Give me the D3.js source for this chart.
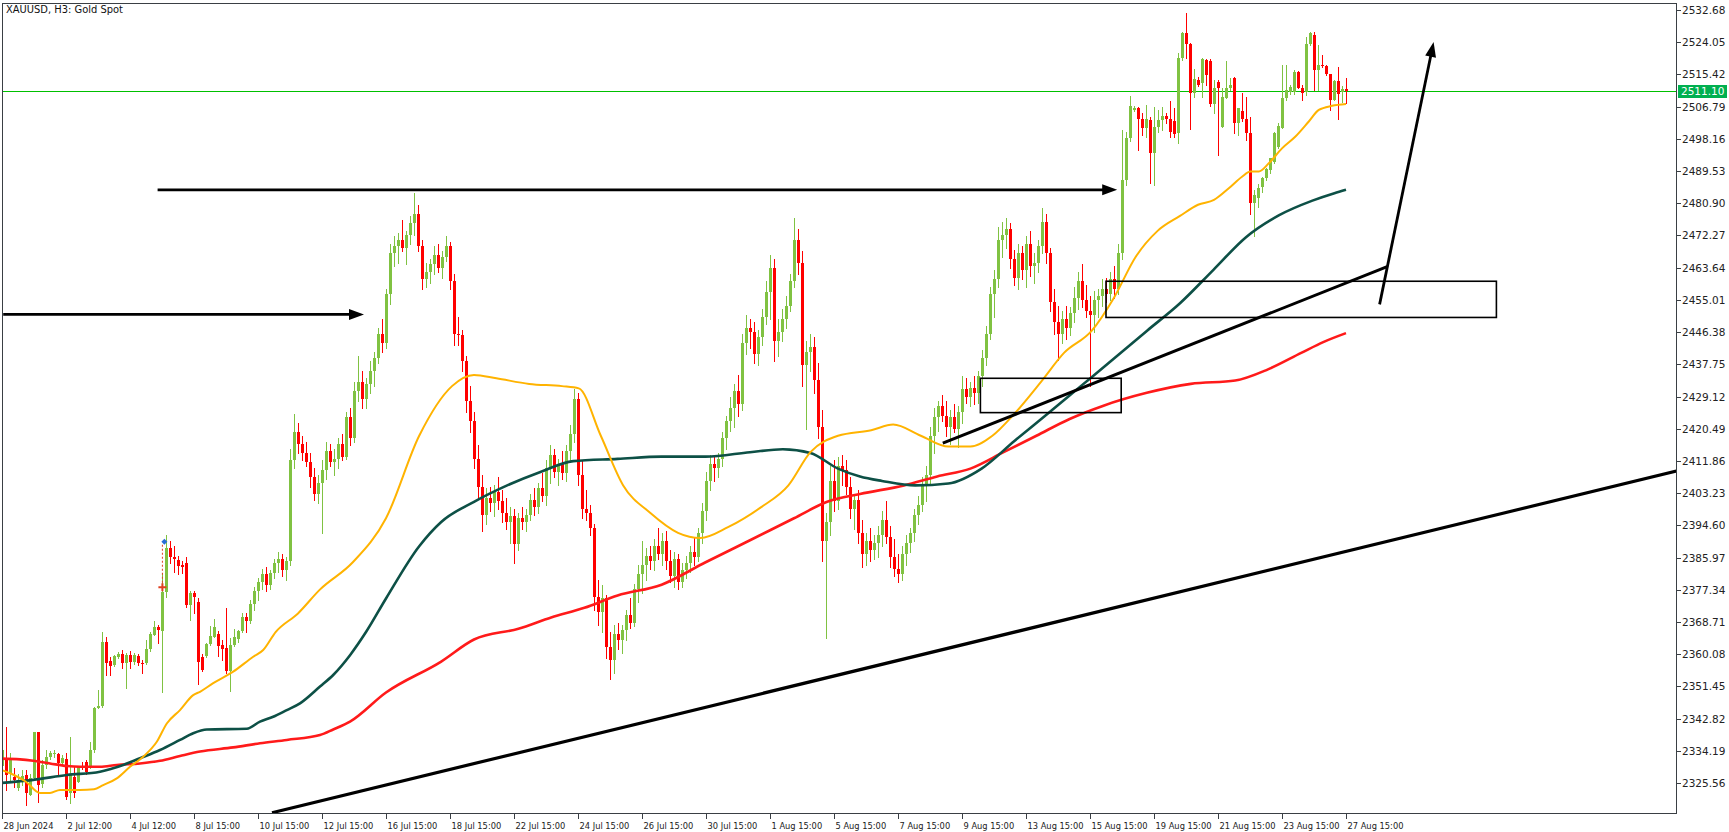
<!DOCTYPE html>
<html><head><meta charset="utf-8">
<script src="https://cdn.jsdelivr.net/npm/d3@7"></script>
<style>
html,body{margin:0;padding:0;background:#fff;}
svg{display:block;}
text{font-family:"DejaVu Sans",sans-serif;}
</style></head><body>
<svg id="chart" width="1729" height="832"></svg>
<script>
// ---- DATA (H3 bars, index 0 = 28 Jun 12:00, 4 px per bar) ----
const candles = [
[2330,2336,2328,2334.5],[2332,2340.6,2323.7,2327.7],[2328.1,2333.5,2326.3,2331.7],[2327.2,2329.5,2324.6,2326.4],
[2324.1,2328.1,2323.7,2326.4],[2326.4,2329,2325,2327.5],[2327.7,2329,2319.7,2322.8],[2322.3,2328.1,2322.3,2326.8],
[2326.8,2339.3,2326.4,2339.1],[2339.1,2339.3,2320.6,2325.0],[2325.4,2331.7,2324.6,2330.4],[2330.4,2334.4,2329.5,2332.6],
[2332.6,2334.2,2332,2333.5],[2333.2,2334.5,2332.5,2333.6],[2333.3,2333.7,2328.1,2330.8],[2330.8,2333,2330.3,2332.2],
[2332.0,2333.5,2321.4,2321.7],[2322.8,2338.0,2320.1,2328.1],[2327.2,2329.9,2321.9,2322.8],[2325.9,2330.1,2325.9,2329.9],
[2330.2,2331.2,2329.3,2329.8],[2331.3,2331.8,2328.0,2328.6],[2329.9,2336.6,2329.5,2334.4],[2334.4,2346.0,2334.0,2345.6],
[2345.7,2350.5,2345.6,2346.2],[2346.3,2366.1,2346.0,2363.4],[2363.4,2364.8,2354.5,2357.6],[2358.2,2359.4,2354.5,2356.9],
[2357.2,2359.9,2356.9,2359.6],[2359.4,2360.6,2359.0,2360.0],[2360.0,2361.2,2356.3,2357.6],[2357.6,2360.3,2351.1,2359.8],
[2359.8,2361.0,2356.3,2358.1],[2358.1,2360.3,2357.5,2359.8],[2359.7,2360.2,2357.2,2357.6],
[2357.8,2358.5,2354.9,2357.4],[2357.6,2364.0,2357.4,2361.4],[2361.4,2366.0,2361.0,2365.5],[2365.3,2369.0,2365.2,2367.4],
[2367.4,2367.9,2363.0,2366.5],[2366.4,2381.7,2350.0,2376.8],[2376.8,2392.0,2375.5,2388.5],[2388.5,2390.5,2384.5,2386.0],
[2386.0,2389.0,2382.0,2385.5],[2385.3,2386.5,2381.6,2383.7],[2383.9,2385.0,2381.7,2383.5],[2384.5,2386.0,2372.6,2373.3],
[2373.3,2377.0,2369.2,2376.4],[2376.4,2377.0,2371.0,2375.5],[2374.1,2375.0,2352.1,2358.1],[2359.4,2360.0,2355.5,2355.8],
[2359.6,2363.0,2359.4,2362.7],[2362.7,2367.6,2362.5,2364.9],[2364.8,2369.4,2364.6,2367.4],[2365.5,2366.4,2359.5,2362.3],
[2362.5,2363.9,2358.5,2361.4],[2361.6,2372.4,2354.9,2355.6],[2355.6,2364.4,2350.3,2362.5],[2362.5,2366.7,2362.3,2364.6],
[2364.2,2366.6,2363.4,2366.4],[2366.4,2371.2,2366.1,2370.1],[2370.1,2371.2,2366.1,2369.1],[2369.1,2374.5,2368.5,2373.5],
[2373.5,2378.0,2372.0,2377.0],[2377.0,2380.5,2374.5,2379.5],[2379.5,2383.0,2377.5,2381.5],[2381.5,2383.5,2377.0,2378.5],
[2378.5,2382.5,2377.5,2381.8],[2381.8,2385.5,2380.5,2384.5],[2384.5,2387.5,2382.0,2385.5],[2385.5,2387.0,2381.0,2382.5],
[2382.5,2386.0,2380.0,2385.0],[2385.0,2415.0,2384.0,2412.0],[2412.0,2424.5,2410.0,2419.5],[2419.5,2422.0,2414.0,2416.5],
[2416.5,2418.5,2412.0,2414.0],[2414.0,2417.0,2410.5,2411.5],[2411.5,2414.0,2405.0,2407.5],[2407.5,2410.0,2401.5,2403.0],
[2403.0,2408.0,2400.5,2406.0],[2406.0,2412.0,2392.5,2409.5],[2409.5,2417.0,2407.0,2414.5],[2414.5,2416.5,2410.5,2411.5],
[2411.5,2415.0,2408.0,2412.5],[2412.5,2418.0,2410.0,2416.5],[2416.5,2419.0,2412.0,2413.0],[2413.0,2425.0,2412.5,2423.5],
[2423.5,2426.0,2416.0,2418.0],[2418.0,2433.0,2417.0,2430.5],[2430.5,2440.0,2428.0,2433.0],[2433.0,2436.0,2426.0,2428.5],
[2428.5,2434.0,2426.0,2432.5],[2432.5,2438.5,2430.0,2436.0],[2436.0,2441.0,2432.0,2439.5],[2439.5,2447.5,2438.0,2446.0],
[2446.0,2450.0,2441.0,2443.5],[2443.5,2458.0,2442.0,2456.5],[2456.5,2470.0,2454.0,2467.5],[2467.5,2472.0,2464.0,2469.5],
[2469.5,2473.0,2465.0,2471.0],[2471.0,2476.5,2468.0,2469.0],[2469.0,2473.5,2464.5,2472.5],[2472.5,2477.5,2470.0,2475.5],
[2475.5,2483.7,2472.5,2478.0],[2478.0,2480.5,2468.0,2469.5],[2469.5,2471.0,2458.0,2460.5],[2460.5,2465.0,2458.5,2462.5],
[2462.5,2466.0,2459.5,2464.5],[2464.5,2469.5,2462.0,2467.0],[2467.0,2470.0,2462.5,2463.5],[2463.5,2468.0,2461.0,2466.5],
[2466.5,2472.0,2465.5,2469.5],[2469.5,2470.5,2458.0,2460.0],[2460.0,2462.0,2443.0,2446.0],[2446.0,2450.5,2443.0,2445.5],
[2445.5,2447.0,2436.0,2438.5],[2438.5,2440.0,2425.0,2428.0],[2428.0,2432.0,2419.5,2422.5],[2422.5,2425.0,2410.0,2412.5],
[2412.5,2416.0,2402.0,2405.0],[2405.0,2408.0,2393.0,2397.5],[2397.5,2404.5,2395.0,2402.0],[2402.0,2405.0,2398.5,2400.5],
[2400.5,2405.5,2397.0,2403.5],[2403.5,2407.5,2399.0,2401.0],[2401.0,2404.0,2395.5,2398.0],[2398.0,2402.0,2393.5,2395.5],
[2395.5,2399.5,2390.0,2397.0],[2397.0,2399.0,2384.5,2389.5],[2389.5,2398.0,2388.0,2396.5],[2396.5,2399.5,2393.5,2395.5],
[2395.5,2399.0,2393.0,2397.5],[2397.5,2403.0,2396.0,2401.5],[2401.5,2404.5,2397.5,2399.5],[2399.5,2406.0,2398.0,2404.5],
[2404.5,2408.5,2401.0,2402.5],[2402.5,2412.0,2400.0,2410.0],[2410.0,2416.0,2406.0,2413.5],[2413.5,2415.0,2407.5,2409.0],
[2409.0,2412.5,2405.5,2411.0],[2411.0,2414.5,2407.0,2408.5],[2408.5,2416.0,2406.5,2414.5],[2414.5,2421.5,2412.0,2419.0],
[2419.0,2431.0,2417.0,2428.5],[2428.5,2430.0,2405.5,2408.0],[2408.0,2412.0,2396.5,2399.0],[2399.0,2404.0,2396.0,2398.0],
[2398.0,2400.0,2392.0,2394.0],[2394.0,2395.0,2372.0,2375.5],[2375.5,2380.0,2368.0,2371.5],[2371.5,2378.5,2366.0,2375.0],
[2375.0,2376.0,2359.0,2362.0],[2362.0,2366.0,2353.5,2358.5],[2358.5,2368.0,2355.0,2365.5],[2365.5,2368.5,2361.5,2364.0],
[2364.0,2368.0,2360.5,2366.5],[2366.5,2372.0,2364.0,2370.5],[2370.5,2375.0,2367.0,2368.5],[2368.5,2379.0,2367.5,2377.5],
[2377.5,2384.0,2374.0,2381.5],[2381.5,2390.5,2376.5,2384.0],[2384.0,2388.5,2380.0,2386.5],[2386.5,2389.0,2383.0,2385.0],
[2385.0,2391.0,2382.5,2389.0],[2389.0,2394.0,2385.5,2387.0],[2387.0,2392.5,2384.0,2390.5],[2390.5,2393.0,2383.0,2385.0],
[2385.0,2388.0,2379.5,2381.0],[2381.0,2387.5,2378.0,2385.5],[2385.5,2387.0,2377.5,2379.5],[2379.5,2384.5,2378.0,2382.5],
[2382.5,2386.5,2380.5,2384.5],[2384.5,2389.0,2382.0,2387.5],[2387.5,2391.5,2384.0,2386.0],[2386.0,2394.0,2385.0,2392.5],
[2392.5,2400.5,2390.0,2398.5],[2398.5,2409.0,2396.0,2406.5],[2406.5,2413.5,2404.0,2411.0],[2411.0,2413.0,2406.5,2410.0],
[2410.0,2414.0,2407.5,2412.5],[2412.5,2419.5,2410.5,2418.0],[2418.0,2424.0,2415.0,2422.5],[2422.5,2429.0,2420.0,2426.0],
[2426.0,2432.5,2421.0,2430.5],[2430.5,2435.0,2424.0,2427.0],[2427.0,2446.0,2425.5,2443.5],[2443.5,2451.0,2440.5,2447.5],
[2447.5,2450.0,2442.0,2446.5],[2446.5,2449.0,2438.0,2440.5],[2440.5,2447.0,2437.5,2445.0],[2445.0,2452.5,2443.0,2450.5],
[2450.5,2460.0,2448.5,2457.0],[2457.0,2467.0,2450.0,2463.5],[2463.5,2466.0,2438.5,2444.0],[2444.0,2450.0,2440.0,2446.5],
[2446.5,2452.5,2444.0,2450.0],[2450.0,2456.0,2447.5,2453.5],[2453.5,2462.0,2452.0,2460.0],[2460.0,2477.0,2458.5,2471.0],
[2471.0,2474.0,2462.0,2465.0],[2465.0,2468.0,2432.0,2437.5],[2437.5,2444.0,2420.5,2441.0],[2441.0,2446.0,2436.0,2442.5],
[2442.5,2445.0,2430.0,2433.5],[2433.5,2438.0,2418.0,2421.0],[2421.0,2425.5,2385.0,2390.5],[2390.5,2398.0,2364.5,2395.5],
[2395.5,2410.5,2392.0,2406.5],[2406.5,2412.0,2398.5,2401.0],[2401.0,2413.0,2399.0,2410.5],[2410.5,2413.5,2405.5,2409.5],
[2409.5,2412.0,2403.0,2405.0],[2405.0,2407.5,2396.5,2399.0],[2399.0,2403.0,2393.5,2401.5],[2401.5,2404.0,2390.0,2392.5],
[2392.5,2396.0,2383.5,2387.0],[2387.0,2392.5,2384.0,2390.5],[2390.5,2394.0,2385.0,2388.0],[2388.0,2392.0,2385.5,2390.0],
[2390.0,2394.5,2386.0,2392.0],[2392.0,2398.5,2389.0,2396.0],[2396.0,2401.0,2390.0,2391.5],[2391.5,2394.5,2383.5,2386.0],
[2386.0,2391.0,2381.0,2383.0],[2383.0,2387.0,2379.5,2381.5],[2381.5,2389.0,2380.0,2387.0],[2387.0,2392.0,2384.0,2390.0],
[2390.0,2394.0,2387.5,2392.5],[2392.5,2399.0,2390.5,2397.5],[2397.5,2402.5,2395.0,2400.0],[2400.0,2407.5,2398.5,2405.5],
[2405.5,2410.5,2401.0,2408.0],[2408.0,2421.0,2406.0,2418.5],[2418.5,2426.0,2414.0,2423.5],[2423.5,2428.0,2420.0,2426.5],
[2426.5,2429.5,2422.5,2424.0],[2424.0,2428.0,2418.5,2421.0],[2421.0,2425.5,2416.5,2423.5],[2423.5,2427.0,2419.5,2420.5],
[2420.5,2426.5,2415.5,2425.0],[2425.0,2434.5,2422.0,2431.0],[2431.0,2434.0,2427.5,2429.0],[2429.0,2433.0,2426.5,2431.5],
[2431.5,2434.5,2427.0,2430.0],[2430.0,2436.0,2427.5,2434.5],[2434.5,2441.5,2432.0,2439.5],[2439.5,2448.0,2437.5,2446.0],
[2446.0,2458.5,2444.5,2456.5],[2456.5,2463.0,2450.5,2460.5],[2460.5,2474.5,2458.5,2471.0],[2471.0,2476.0,2466.5,2472.5],
[2472.5,2477.0,2469.0,2474.0],[2474.0,2475.5,2463.5,2466.0],[2466.0,2468.5,2459.0,2461.0],[2461.0,2470.0,2458.0,2467.5],
[2467.5,2469.5,2460.5,2463.0],[2463.0,2472.0,2458.5,2470.0],[2470.0,2473.5,2461.5,2464.0],[2464.0,2467.5,2459.5,2465.0],
[2465.0,2471.0,2462.5,2469.5],[2469.5,2479.5,2467.5,2476.0],[2476.0,2478.0,2465.0,2467.5],[2467.5,2469.0,2452.0,2454.5],
[2454.5,2458.0,2446.0,2449.0],[2449.0,2453.5,2439.0,2446.0],[2446.0,2452.0,2443.5,2450.0],[2450.0,2453.5,2444.5,2447.5],
[2447.5,2453.0,2445.5,2451.5],[2451.5,2458.5,2449.0,2455.5],[2455.5,2462.5,2452.5,2460.0],[2460.0,2464.5,2453.0,2455.0],
[2455.0,2459.0,2450.5,2452.0],[2452.0,2456.0,2432.0,2451.0],[2451.0,2457.5,2446.5,2455.0],[2455.0,2458.0,2450.5,2456.0],
[2456.0,2460.5,2453.5,2458.0],[2458.0,2461.0,2454.5,2456.5],[2456.5,2462.5,2455.0,2460.5],[2460.5,2464.0,2455.5,2458.0],
[2458.0,2470.0,2456.5,2467.5],[2467.5,2500.5,2466.0,2487.1],[2487.1,2500.1,2485.8,2498.3],[2498.3,2509.6,2497.5,2507.0],
[2506.0,2507.0,2505.5,2506.4],[2506.5,2506.8,2495.2,2503.4],[2503.5,2505.0,2499.2,2501.0],[2501.0,2507.2,2498.7,2503.4],
[2503.2,2504.1,2486.4,2494.4],[2494.4,2506.8,2485.8,2501.4],[2501.4,2505.9,2500.1,2503.2],[2503.2,2506.8,2500.5,2504.3],
[2504.3,2505.0,2502.5,2503.6],[2503.6,2508.4,2498.7,2500.0],[2503.0,2506.3,2498.7,2499.4],[2499.6,2521.1,2497.1,2519.7],
[2519.7,2526.9,2519.3,2526.4],[2526.4,2531.8,2519.7,2523.7],[2523.7,2523.9,2500.7,2510.5],[2510.5,2516.8,2509.5,2514.1],
[2513.9,2514.8,2512.3,2512.6],[2513.0,2519.7,2509.4,2519.5],[2519.3,2519.6,2512.6,2515.3],[2519.0,2519.6,2507.0,2507.4],
[2507.4,2513.9,2505.0,2511.7],[2513.5,2513.9,2493.8,2511.7],[2501.4,2511.7,2501.4,2509.4],[2509.2,2519.0,2509.0,2511.7],
[2511.7,2514.4,2511.2,2512.6],[2514.4,2514.6,2499.6,2502.3],[2502.3,2506.3,2499.2,2506.3],[2505.6,2510.5,2503.0,2503.6],
[2503.6,2509.4,2497.8,2499.6],[2499.8,2504.1,2478.0,2481.0],[2481.0,2484.5,2472.0,2483.0],[2482.2,2486.0,2480.0,2484.9],
[2485.3,2488.0,2484.0,2487.6],[2487.6,2490.3,2487.1,2490.0],[2489.8,2493.0,2489.0,2492.9],[2492.0,2500.1,2491.6,2499.6],
[2496.1,2502.5,2495.6,2501.6],[2501.0,2517.9,2501.0,2509.0],[2509.0,2517.9,2508.6,2511.2],[2510.8,2512.6,2510.2,2512.0],
[2510.8,2516.6,2510.2,2516.2],[2516.2,2516.4,2511.7,2511.7],[2511.7,2512.6,2508.6,2510.4],[2510.8,2525.5,2509.9,2523.7],
[2523.7,2526.9,2523.3,2526.4],[2526.0,2526.9,2511.2,2516.6],[2516.6,2523.3,2511.2,2517.9],[2518.0,2520.6,2517.5,2517.7],
[2517.7,2517.9,2515.3,2515.5],[2515.5,2515.5,2505.9,2508.6],[2508.6,2513.9,2508.6,2513.7],[2513.7,2517.5,2503.4,2510.1],
[2510.8,2512.3,2508.1,2511.4],[2511.4,2514.4,2507.7,2511.1]
];

const timeTickBars = [0,16,32,48,64,80,96,112,128,144,160,176,192,208,224,240,256,272,288,304,320,336];
const timeTickLabels = ["28 Jun 2024","2 Jul 12:00","4 Jul 12:00","8 Jul 15:00","10 Jul 15:00","12 Jul 15:00",
 "16 Jul 15:00","18 Jul 15:00","22 Jul 15:00","24 Jul 15:00","26 Jul 15:00","30 Jul 15:00","1 Aug 15:00",
 "5 Aug 15:00","7 Aug 15:00","9 Aug 15:00","13 Aug 15:00","15 Aug 15:00","19 Aug 15:00","21 Aug 15:00",
 "23 Aug 15:00","27 Aug 15:00"];
const priceTicks = [2532.68,2524.05,2515.42,2506.79,2498.16,2489.53,2480.90,2472.27,2463.64,2455.01,2446.38,
 2437.75,2429.12,2420.49,2411.86,2403.23,2394.60,2385.97,2377.34,2368.71,2360.08,2351.45,2342.82,2334.19,2325.56];
const lastPrice = 2511.10;

// moving averages: [bar index, price]
const maFast = [[0,2329.0],[3,2327.7],[6,2325.9],[9.5,2322.9],[12,2322.9],[14.5,2323.7],[19.5,2323.7],[23,2323.9],
 [25.3,2325.0],[28.7,2326.8],[32,2329.9],[35.3,2332.6],[38.7,2336.6],[41.2,2341.5],[44.5,2345.1],[47.8,2349.1],
 [49.5,2350.0],[52.8,2352.3],[57.8,2355.4],[62.8,2359.4],[65.3,2361.2],[68.4,2366.0],[74,2371],[79.4,2377.3],
 [87.7,2384.7],[96,2396.5],[104.3,2418.6],[112.5,2431.9],[118,2434.9],[123.6,2434.0],[131.8,2432.5],[140,2431.9],
 [144.2,2431.3],[149.7,2418.6],[155.3,2405.3],[162.1,2397.9],[169,2392.6],[174.6,2391.2],[181.5,2394.1],
 [189.7,2399.4],[196.6,2405.3],[202.1,2414.2],[209,2418.6],[217.3,2420.1],[222.8,2421.6],[229.7,2418.6],
 [236.6,2415.7],[242.1,2415.7],[247.6,2418.6],[253.1,2424.5],[260,2433.4],[265.5,2440.8],[272.4,2446.7],
 [278,2455.6],[283.4,2466.5],[288.9,2473.5],[294.5,2477.5],[299,2480.5],[303,2481.8],[306.7,2484.9],[310,2488.0],
 [312.1,2489.4],[314.2,2489.4],[316.7,2491.6],[320,2495.6],[323.3,2498.7],[326.7,2502.8],[329.2,2505.9],
 [332.5,2507.0],[336,2507.5]];
const maMid = [[0,2325.6],[7.8,2326.4],[16.2,2327.7],[24.5,2328.6],[30.3,2330.4],[34.5,2332.2],[39.5,2334.4],
 [44.5,2337.1],[47.8,2338.9],[51.2,2339.9],[61.2,2340.1],[64.5,2342.0],[67.8,2343.3],[71.2,2345.1],[74.5,2346.9],
 [79.5,2351.4],[82.8,2354.5],[87,2359.8],[91,2366],[96,2375],[104.3,2389],[109.8,2395.5],[118,2400.9],
 [126.3,2405.3],[134.6,2408.9],[142.8,2411.8],[153.9,2412.4],[164.9,2413.0],[175.9,2413.0],[187,2414.2],
 [195.2,2415.0],[202.1,2414.0],[209,2409.8],[214.5,2407.7],[220,2406.5],[228.3,2405.3],[236.6,2405.8],
 [244.9,2409.8],[253.1,2417.2],[261.4,2424.5],[269.7,2431.9],[278,2439.3],[286.2,2446.7],[294.5,2454.1],
 [302.8,2463.0],[311,2471.8],[319.3,2477.7],[327.6,2481.6],[333.1,2483.6],[336,2484.5]];
const maSlow = [[0,2332.1],[4.5,2331.9],[7.8,2331.5],[12,2330.8],[16.2,2330.1],[19.5,2329.9],[24.5,2329.9],
 [28.7,2330.4],[34.5,2330.8],[39.5,2331.5],[44.5,2332.8],[49.5,2334.0],[57.8,2335.1],[64.5,2336.2],[71.2,2337.1],
 [79.5,2338.4],[82.8,2339.9],[87,2342.0],[96,2349.8],[109.8,2358.1],[118,2364.0],[129.1,2366.9],[137.3,2369.9],
 [145.6,2372.5],[153.9,2375.8],[164.9,2378.7],[175.9,2384.7],[187,2390.6],[198,2396.5],[206.3,2400.9],
 [214.5,2403.0],[225.5,2405.3],[233.8,2407.7],[242.1,2409.8],[250.4,2414.2],[258.6,2418.6],[266.9,2423.1],
 [275.2,2426.6],[286.2,2430.1],[297.2,2432.5],[308.3,2433.4],[316.5,2436.4],[324.8,2440.8],[330.3,2443.7],
 [336,2446.1]];

// trade markers on the 5 Jul bar: [bar index, price]
const tradeBuy = [40.6, 2390.2];
const tradeClose = [40.1, 2378.0];

// hand-drawn annotations: [bar index, price]
const trendMain = [[67.5,2317.6],[420,2409.5]];
const trendShort = [[235.2,2416.6],[346.3,2463.9]];
const arrowTop = [[38.9,2484.5],[278.8,2484.5]];
const arrowLeft = [[0.3,2451.1],[90.5,2451.1]];
const arrowUp = [[344.4,2453.8],[357.9,2524.1]];
const zoneLow = [[244.6,2434.0],[279.8,2424.8]];
const zoneHigh = [[276,2460.0],[373.6,2450.3]];

// ---- LAYOUT ----
const W = 1729, H = 832;
const plotL = 2, plotR = 1676, plotT = 3, plotB = 813;
const x = d3.scaleLinear().domain([0, 1]).range([2, 6]);
const y = d3.scaleLinear().domain([2325.56, 2532.68]).range([783, 10]);

const svg = d3.select("#chart");
svg.append("rect").attr("width", W).attr("height", H).attr("fill", "#fff");
svg.append("defs").append("clipPath").attr("id", "plotclip")
  .append("rect").attr("x", plotL).attr("y", plotT).attr("width", plotR - plotL).attr("height", plotB - plotT);

const plot = svg.append("g").attr("clip-path", "url(#plotclip)");

// current price line
plot.append("line").attr("x1", plotL).attr("x2", plotR)
  .attr("y1", Math.round(y(lastPrice)) + 0.5).attr("y2", Math.round(y(lastPrice)) + 0.5)
  .attr("stroke", "#00c000").attr("stroke-width", 1);

// candles
const UP = "#80c242", DN = "#ff0000";
const cg = plot.append("g");
candles.forEach((d, i) => {
  const [o, h, l, c] = d;
  const cx = Math.round(x(i));
  const col = c >= o ? UP : DN;
  const hi = Math.max(h, o, c), lo = Math.min(l, o, c);
  cg.append("line").attr("x1", cx + 0.5).attr("x2", cx + 0.5)
    .attr("y1", Math.round(y(hi))).attr("y2", Math.round(y(lo)) + 1)
    .attr("stroke", col).attr("stroke-width", 1);
  const yt = Math.round(y(Math.max(o, c))), yb = Math.round(y(Math.min(o, c)));
  cg.append("rect").attr("x", cx - 1).attr("y", yt).attr("width", 3)
    .attr("height", Math.max(1, yb - yt)).attr("fill", col);
});

// moving averages
const line = d3.line().x(d => x(d[0])).y(d => y(d[1])).curve(d3.curveMonotoneX);
plot.append("path").datum(maSlow).attr("d", line).attr("fill", "none").attr("stroke", "#ff1a1a").attr("stroke-width", 2.6);
plot.append("path").datum(maMid).attr("d", line).attr("fill", "none").attr("stroke", "#0d5046").attr("stroke-width", 2.6);
plot.append("path").datum(maFast).attr("d", line).attr("fill", "none").attr("stroke", "#ffb300").attr("stroke-width", 2);

// trade markers
{
  const bx = x(tradeBuy[0]), by = y(tradeBuy[1]);
  plot.append("path").attr("d", `M${bx},${by - 3}L${bx + 3},${by}L${bx},${by + 3}L${bx - 3},${by}Z`).attr("fill", "#2a6fd6");
  const rx = x(tradeClose[0]), ry = y(tradeClose[1]);
  plot.append("line").attr("x1", rx).attr("x2", rx).attr("y1", by + 3).attr("y2", ry - 3)
    .attr("stroke", "#e04020").attr("stroke-width", 1).attr("stroke-dasharray", "2,2");
  plot.append("path").attr("d", `M${rx - 4},${ry}L${rx + 4},${ry}M${rx},${ry - 4}L${rx},${ry + 4}`)
    .attr("stroke", "#e04020").attr("stroke-width", 2);
}

// annotations
const ag = plot.append("g");
function seg(pts, w) {
  ag.append("line").attr("x1", x(pts[0][0])).attr("y1", y(pts[0][1]))
    .attr("x2", x(pts[1][0])).attr("y2", y(pts[1][1]))
    .attr("stroke", "#000").attr("stroke-width", w).attr("stroke-linecap", "butt");
}
function arrow(pts, w) {
  const x1 = x(pts[0][0]), y1 = y(pts[0][1]), x2 = x(pts[1][0]), y2 = y(pts[1][1]);
  const dx = x2 - x1, dy = y2 - y1, len = Math.hypot(dx, dy);
  const ux = dx / len, uy = dy / len, nx = -uy, ny = ux;
  const hl = 15, hw = 5.5;
  ag.append("line").attr("x1", x1).attr("y1", y1).attr("x2", x2 - ux * (hl - 2)).attr("y2", y2 - uy * (hl - 2))
    .attr("stroke", "#000").attr("stroke-width", w);
  const bx = x2 - ux * hl, by = y2 - uy * hl;
  ag.append("path").attr("d", `M${x2},${y2}L${bx + nx * hw},${by + ny * hw}L${bx - nx * hw},${by - ny * hw}Z`)
    .attr("fill", "#000");
}
function box(pts) {
  const xa = x(pts[0][0]), xb = x(pts[1][0]), ya = y(pts[0][1]), yb = y(pts[1][1]);
  ag.append("rect").attr("x", Math.min(xa, xb)).attr("y", Math.min(ya, yb))
    .attr("width", Math.abs(xb - xa)).attr("height", Math.abs(yb - ya))
    .attr("fill", "none").attr("stroke", "#000").attr("stroke-width", 1.6);
}
seg(trendMain, 3.2);
seg(trendShort, 3);
box(zoneLow);
box(zoneHigh);
arrow(arrowTop, 2.8);
arrow(arrowLeft, 2.8);
arrow(arrowUp, 2.8);

// frame
const axisCol = "#3a3f44";
svg.append("line").attr("x1", plotL + 0.5).attr("x2", plotL + 0.5).attr("y1", plotT).attr("y2", plotB).attr("stroke", axisCol);
svg.append("line").attr("x1", plotL).attr("x2", plotR).attr("y1", plotT + 0.5).attr("y2", plotT + 0.5).attr("stroke", axisCol);
svg.append("line").attr("x1", plotR + 0.5).attr("x2", plotR + 0.5).attr("y1", plotT).attr("y2", plotB + 1).attr("stroke", axisCol);
svg.append("line").attr("x1", plotL).attr("x2", plotR + 1).attr("y1", plotB + 0.5).attr("y2", plotB + 0.5).attr("stroke", axisCol);

// title (DejaVu glyphs slightly narrowed to mimic the terminal UI font)
{
  const t = svg.append("text").attr("x", 6).attr("y", 13).attr("font-size", 11).attr("fill", "#111")
    .text("XAUUSD, H3:  Gold Spot");
  const len = t.node().getComputedTextLength();
  t.attr("textLength", (len * 0.9).toFixed(1)).attr("lengthAdjust", "spacingAndGlyphs");
}

// price axis (right)
const pa = svg.append("g");
priceTicks.forEach(p => {
  const yy = Math.round(y(p)) + 0.5;
  pa.append("line").attr("x1", plotR + 1).attr("x2", plotR + 5).attr("y1", yy).attr("y2", yy).attr("stroke", axisCol);
  pa.append("text").attr("x", plotR + 6).attr("y", yy).attr("dy", "0.35em").attr("font-size", 10.5)
    .attr("fill", "#222").text(p.toFixed(2));
});
// last price badge
const ly = Math.round(y(lastPrice));
pa.append("rect").attr("x", plotR + 2).attr("y", ly - 6).attr("width", 49).attr("height", 13).attr("fill", "#00b050");
pa.append("text").attr("x", plotR + 5).attr("y", ly + 0.5).attr("dy", "0.35em").attr("font-size", 10.5)
  .attr("fill", "#fff").text(lastPrice.toFixed(2));

// time axis (bottom): one common font size, chosen so the widest label fits in the tick spacing
const ta = svg.append("g");
const labels = [];
timeTickBars.forEach((b, k) => {
  const xx = Math.round(x(b)) + 0.5;
  ta.append("line").attr("x1", xx).attr("x2", xx).attr("y1", plotB + 1).attr("y2", plotB + 6).attr("stroke", axisCol);
  labels.push(ta.append("text").attr("x", xx + 1).attr("y", plotB + 16)
    .attr("font-family", "'Liberation Sans', Arial, sans-serif").attr("font-size", 10).attr("fill", "#222")
    .text(timeTickLabels[k]));
});
const maxLen = d3.max(labels, t => t.node().getComputedTextLength());
const fs = maxLen > 56 ? 10 * 56 / maxLen : 10;
labels.forEach(t => t.attr("font-size", fs.toFixed(2)));
</script>
</body></html>
